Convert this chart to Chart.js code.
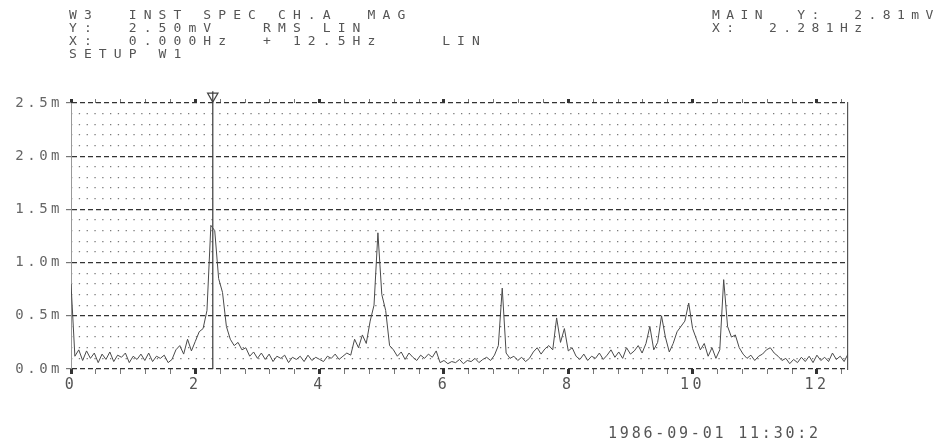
<!DOCTYPE html>
<html>
<head>
<meta charset="utf-8">
<script src="https://cdn.jsdelivr.net/npm/chart.js@4/dist/chart.umd.min.js"></script>
<style>
  html, body { margin: 0; padding: 0; background: #fff; }
  #wrap { position: relative; width: 941px; height: 447px; overflow: hidden; background: #fff; }
  #c { position: absolute; left: 0; top: 0; }
  .t { position: absolute; font-family: "DejaVu Sans Mono", monospace; color: #555; white-space: pre; font-size: 13px; letter-spacing: 7.1px; line-height: 13px; }
</style>
</head>
<body>
<div id="wrap">
  <canvas id="c" width="941" height="447"></canvas>
  <div class="t" id="hdrL" style="left:69px; top:8px;"></div>
  <div class="t" id="hdrR" style="left:712px; top:8px; letter-spacing:6.4px;"></div>
  <div class="t" id="stamp" style="left:608px; top:427px; font-size:15px; letter-spacing:2.8px;"></div>
</div>
<script>
// ---- header / annotation text ----
const headerLeft = [
  "W3  INST SPEC CH.A  MAG",
  "Y:  2.50mV   RMS LIN",
  "X:  0.000Hz  + 12.5Hz    LIN",
  "SETUP W1"
];
const headerRight = [
  "MAIN  Y:  2.81mV",
  "X:  2.281Hz"
];
const timeStamp = "1986-09-01 11:30:2";

// ---- axis settings (Hz, mV) ----
const xStart = 0.0;
const xSpan = 12.5;
const yFull = 2.5;
const binStep = 0.0625;          // spectral line spacing used for the readout below
const cursorX = 2.281;           // marker frequency

// ---- magnitude readout, mV, one per line from 0 Hz to 12.5 Hz ----
const magnitude = [
  0.80, 0.12, 0.18, 0.08, 0.17, 0.10, 0.15, 0.06, 0.14, 0.09,
  0.16, 0.07, 0.13, 0.11, 0.15, 0.06, 0.12, 0.09, 0.14, 0.08,
  0.15, 0.07, 0.12, 0.10, 0.13, 0.06, 0.09, 0.18, 0.22, 0.14,
  0.28, 0.17, 0.26, 0.35, 0.38, 0.55, 1.35, 1.30, 0.85, 0.72,
  0.40, 0.28, 0.22, 0.25, 0.18, 0.20, 0.12, 0.16, 0.10, 0.15,
  0.09, 0.14, 0.07, 0.12, 0.10, 0.13, 0.06, 0.11, 0.09, 0.12,
  0.07, 0.13, 0.08, 0.11, 0.09, 0.07, 0.12, 0.10, 0.14, 0.09,
  0.12, 0.15, 0.13, 0.28, 0.20, 0.32, 0.24, 0.45, 0.60, 1.28,
  0.70, 0.55, 0.22, 0.18, 0.12, 0.16, 0.09, 0.15, 0.11, 0.08,
  0.13, 0.10, 0.14, 0.11, 0.17, 0.06, 0.08, 0.05, 0.07, 0.06,
  0.09, 0.05, 0.08, 0.07, 0.10, 0.06, 0.09, 0.11, 0.08, 0.13,
  0.22, 0.76, 0.15, 0.10, 0.12, 0.08, 0.11, 0.07, 0.10, 0.16,
  0.20, 0.14, 0.19, 0.22, 0.18, 0.48, 0.25, 0.38, 0.17, 0.20,
  0.12, 0.09, 0.14, 0.08, 0.12, 0.10, 0.15, 0.09, 0.13, 0.18,
  0.11, 0.16, 0.10, 0.20, 0.14, 0.17, 0.22, 0.15, 0.24, 0.40,
  0.18, 0.25, 0.50, 0.30, 0.16, 0.24, 0.35, 0.40, 0.45, 0.62,
  0.38, 0.28, 0.18, 0.24, 0.12, 0.20, 0.10, 0.18, 0.84, 0.40,
  0.30, 0.32, 0.20, 0.14, 0.10, 0.13, 0.08, 0.12, 0.14, 0.18,
  0.20, 0.15, 0.12, 0.08, 0.10, 0.05, 0.09, 0.06, 0.11, 0.07,
  0.12, 0.06, 0.13, 0.08, 0.11, 0.07, 0.15, 0.09, 0.12, 0.07,
  0.14
];

// ---- text into page ----
document.getElementById('hdrL').textContent = headerLeft.join('\n');
document.getElementById('hdrR').textContent = headerRight.join('\n');
document.getElementById('stamp').textContent = timeStamp;

const trace = magnitude.map((v, i) => ({ x: xStart + i * binStep, y: v }));
const cursorLine = [{ x: cursorX, y: 0 }, { x: cursorX, y: yFull + 0.11 }];
const cursorHead = [{ x: cursorX, y: yFull + 0.065 }];

const isMajor = v => Math.abs(v / 2 - Math.round(v / 2)) < 1e-6;
const isHalf = v => Math.abs(v / 0.5 - Math.round(v / 0.5)) < 1e-6;

const letterSpacingPlugin = {
  id: 'ls',
  beforeDraw(chart) { chart.ctx.letterSpacing = '3.5px'; },
  afterDraw(chart) { chart.ctx.letterSpacing = '0px'; }
};

new Chart(document.getElementById('c'), {
  type: 'line',
  data: {
    datasets: [
      { data: trace, borderColor: '#4a4a4a', borderWidth: 1, pointRadius: 0, tension: 0, xAxisID: 'x', yAxisID: 'y' },
      { data: cursorLine, borderColor: '#3a3a3a', borderWidth: 1.2, pointRadius: 0, clip: false, xAxisID: 'x', yAxisID: 'y' },
      { data: cursorHead, showLine: false, pointStyle: 'triangle', rotation: 180, pointRadius: 6,
        pointBorderColor: '#444', pointBackgroundColor: 'rgba(255,255,255,0)', pointBorderWidth: 1.2, clip: false, xAxisID: 'x', yAxisID: 'y' }
    ]
  },
  options: {
    responsive: false,
    animation: false,
    devicePixelRatio: 1,
    layout: { padding: { left: 0, right: 93, top: 97, bottom: 50 } },
    plugins: { legend: { display: false }, tooltip: { enabled: false } },
    scales: {
      x: {
        type: 'linear', position: 'bottom', min: xStart, max: xSpan,
        afterFit(s) { s.height = 28; },
        ticks: {
          stepSize: 0.4, includeBounds: false, autoSkip: false, maxRotation: 0, padding: 2,
          color: '#555', font: { family: 'DejaVu Sans Mono', size: 15 },
          callback: v => isMajor(v) ? String(Math.round(v)) : ''
        },
        grid: {
          drawOnChartArea: false, drawTicks: true, tickLength: 5,
          tickColor: c => isMajor(c.tick.value) ? '#333' : '#777',
          tickWidth: c => isMajor(c.tick.value) ? 3 : 1
        },
        border: { display: false }
      },
      xTop: {
        type: 'linear', position: 'top', min: xStart, max: xSpan,
        afterFit(s) { s.height = 6; },
        ticks: { stepSize: 0.4, includeBounds: false, autoSkip: false, display: false },
        grid: {
          drawOnChartArea: false, drawTicks: true, tickLength: 4,
          tickColor: c => isMajor(c.tick.value) ? '#333' : '#777',
          tickWidth: c => isMajor(c.tick.value) ? 3 : 1
        },
        border: { display: false }
      },
      y: {
        position: 'left', min: 0, max: yFull,
        afterFit(s) { s.width = 0; },
        ticks: { stepSize: 0.1, display: false },
        grid: { color: c => isHalf(c.tick.value) ? 'rgba(0,0,0,0)' : '#7a7a7a', lineWidth: 1.3, drawTicks: false },
        border: { display: false, dash: [1.3, 6.5] }
      },
      yMajor: {
        position: 'left', min: 0, max: yFull,
        afterFit(s) { s.width = 71; },
        ticks: {
          stepSize: 0.5, padding: 3, color: '#666',
          font: { family: 'DejaVu Sans Mono', size: 14 },
          callback: v => v.toFixed(1) + 'm'
        },
        grid: { color: '#333', lineWidth: 1.2, drawTicks: true, tickLength: 5, tickColor: '#777' },
        border: { display: true, color: '#999', width: 1, dash: [5, 3] }
      },
      yRight: {
        position: 'right', min: 0, max: yFull,
        afterFit(s) { s.width = 0; },
        ticks: { display: false },
        grid: { display: false },
        border: { display: true, color: '#555', width: 1.2 }
      }
    }
  },
  plugins: [letterSpacingPlugin]
});
</script>
</body>
</html>
